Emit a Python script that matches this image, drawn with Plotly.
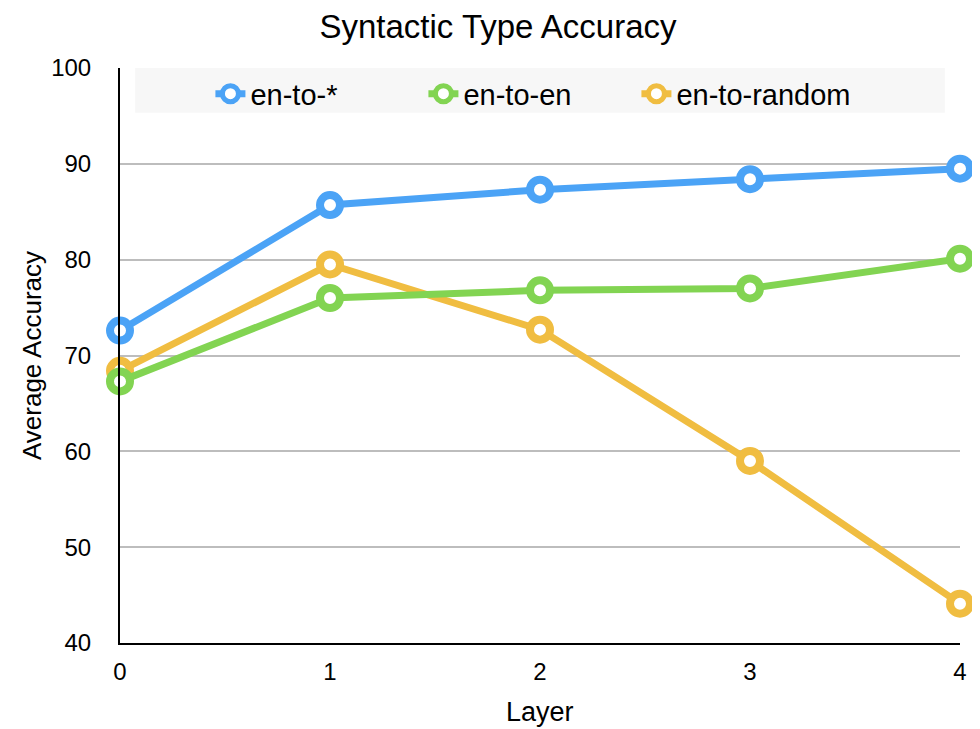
import plotly.graph_objects as go

layers = [0, 1, 2, 3, 4]
en_to_star = [72.6, 85.7, 87.3, 88.4, 89.5]
en_to_en = [67.3, 76.0, 76.8, 77.0, 80.1]
en_to_random = [68.4, 79.5, 72.7, 59.0, 44.1]

series = [
    ("en-to-*", en_to_star, "#4BA3F6", 1),
    ("en-to-random", en_to_random, "#F0BD41", 3),
    ("en-to-en", en_to_en, "#82D452", 2),
]

fig = go.Figure()
for name, vals, color, rank in series:
    fig.add_trace(go.Scatter(
        x=layers, y=vals, name=name, mode="lines+markers",
        line=dict(color=color, width=7),
        marker=dict(size=20, color="white", line=dict(color=color, width=8)),
        cliponaxis=False, legendrank=rank,
    ))

font = "Liberation Sans, Arial, Helvetica, sans-serif"
fig.update_layout(
    width=980, height=729,
    margin=dict(l=112, r=28, t=60, b=94),
    paper_bgcolor="white", plot_bgcolor="white",
    font=dict(family=font, color="black", size=24),
    title=dict(text="Syntactic Type Accuracy", x=0.5, xanchor="center",
               y=0.975, yanchor="middle", font=dict(size=33)),
    showlegend=True,
    legend=dict(orientation="h", x=0.488, xanchor="center", y=0.955, yanchor="middle",
                bgcolor="rgba(0,0,0,0)", font=dict(size=29), entrywidth=168,
                itemwidth=30),
    shapes=[dict(type="rect", xref="paper", yref="paper", x0=0.018, x1=0.982,
                 y0=0.922, y1=1.0, fillcolor="#F7F7F7", line=dict(width=0),
                 layer="between")],
    annotations=[dict(text="Layer", xref="paper", yref="paper", x=0.5, y=-0.12,
                      xanchor="center", yanchor="middle", showarrow=False,
                      font=dict(size=27))],
)
fig.update_xaxes(range=[0, 4], tickvals=layers, showgrid=False, zeroline=False,
                 showline=True, linecolor="black", linewidth=2, ticks="",
                 tickfont=dict(size=24), ticklabelstandoff=6, automargin=False)
fig.update_yaxes(range=[40, 100], tickvals=[40, 50, 60, 70, 80, 90, 100],
                 showgrid=True, gridcolor="#BDBDBD", gridwidth=2, zeroline=False,
                 showline=True, linecolor="black", linewidth=2, ticks="",
                 tickfont=dict(size=24), ticklabelstandoff=22, automargin=False,
                 title=dict(text="Average Accuracy", font=dict(size=26), standoff=2))

fig.write_html("out.html")
